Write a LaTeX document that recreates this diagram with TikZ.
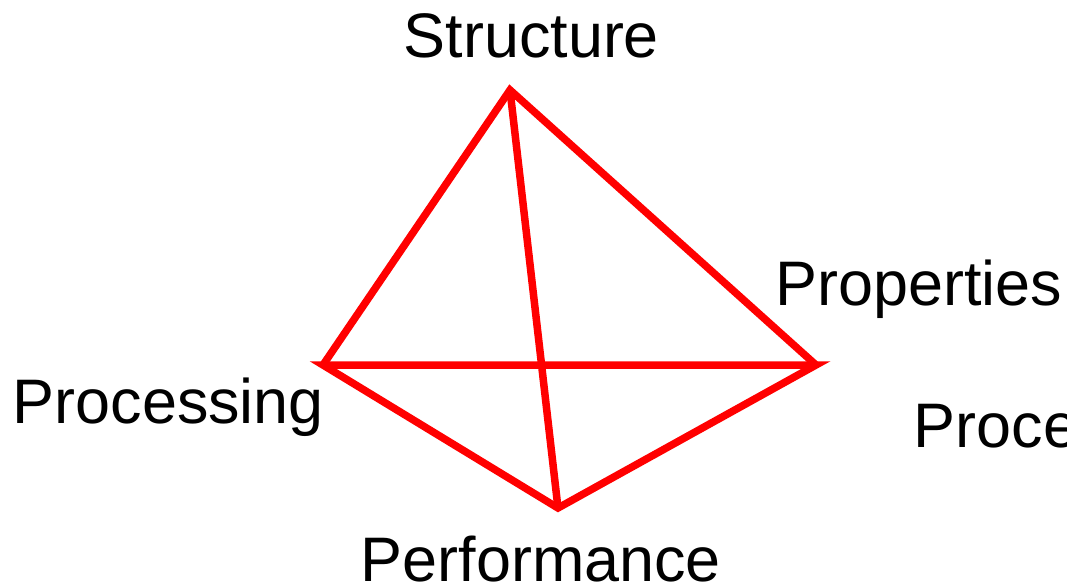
\documentclass[tikz,border=0pt]{standalone}
\usepackage{fontspec}
\setmainfont{Liberation Sans}
\begin{document}
\begin{tikzpicture}[
    edge/.style={line width=0.075cm, red, line join=miter},
    lbl/.style={anchor=base west, inner sep=0pt, font=\fontsize{17.9}{21}\selectfont}]
    \useasboundingbox (0,0) rectangle (10.67,5.85);
    % Sommets du tetraedre
    \coordinate (St) at (5.10,4.95);
    \coordinate (Pc) at (3.23,2.20);
    \coordinate (Pp) at (8.16,2.20);
    \coordinate (Pf) at (5.58,0.77);
    
    % Aretes
    \draw[edge] (Pc) -- (St) -- (Pp);
    \draw[edge] (St) -- (Pf);
    \draw[edge] (Pc) -- (Pp) -- (Pf) -- cycle;
    
    % Etiquettes
    \node[lbl] (lSt) at (4.03,5.28) {Structure};
    \node[lbl] (lPp) at (7.75,2.80) {Properties};
    \node[lbl] (lPc) at (0.12,1.62) {Processing};
    \node[lbl] (lPf) at (3.60,0.04) {Performance};
    \node[lbl] (lPx) at (9.13,1.38) {Processing};
\end{tikzpicture}
\end{document}
